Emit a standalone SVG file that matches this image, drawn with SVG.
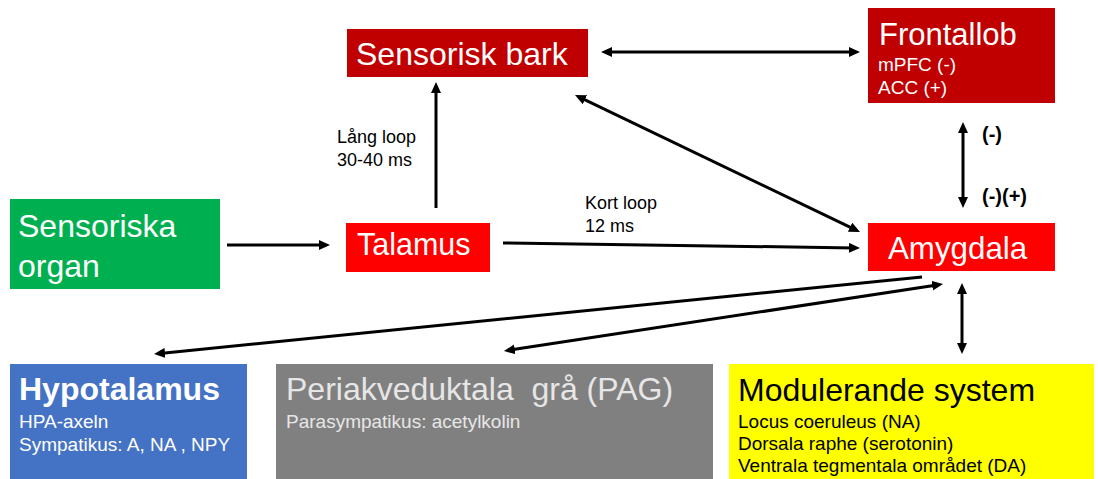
<svg xmlns="http://www.w3.org/2000/svg" width="1098" height="479" viewBox="0 0 1098 479">
<style>
text{font-family:"Liberation Sans",Arial,sans-serif}
.w{fill:#fff}
.big{font-size:32px}
.sm{font-size:19px}
.lbl{font-size:18px;fill:#000}
.bl{font-size:20px;font-weight:bold;fill:#000}
.c{fill:none;stroke:#000;stroke-width:3}
</style>
<defs>
<marker id="ah" viewBox="0 0 11 10" refX="5" refY="5" markerWidth="11" markerHeight="10" markerUnits="userSpaceOnUse" orient="auto-start-reverse">
<path d="M0,0 L11,5 L0,10 z" fill="#000"/>
</marker>
</defs>
<rect width="1098" height="479" fill="#fff"/>
<g id="connectors">
<line class="c" x1="227" y1="245" x2="324" y2="245" marker-end="url(#ah)"/>
<line class="c" x1="436" y1="208" x2="436" y2="88" marker-end="url(#ah)"/>
<line class="c" x1="503" y1="243" x2="854" y2="247.9" marker-end="url(#ah)"/>
<line class="c" x1="607" y1="52" x2="854" y2="52" marker-start="url(#ah)" marker-end="url(#ah)"/>
<line class="c" x1="580.4" y1="97.6" x2="854.6" y2="229.4" marker-start="url(#ah)" marker-end="url(#ah)"/>
<line class="c" x1="963" y1="128" x2="963" y2="202" marker-start="url(#ah)" marker-end="url(#ah)"/>
<line class="c" x1="922" y1="277" x2="160" y2="353.4" marker-end="url(#ah)"/>
<line class="c" x1="937.1" y1="284.9" x2="509.9" y2="350.1" marker-start="url(#ah)" marker-end="url(#ah)"/>
<line class="c" x1="962" y1="289" x2="962" y2="348" marker-start="url(#ah)" marker-end="url(#ah)"/>
<text class="lbl" x="337" y="143">Lång loop</text>
<text class="lbl" x="337" y="166">30-40 ms</text>
<text class="lbl" x="585" y="209">Kort loop</text>
<text class="lbl" x="585" y="232">12 ms</text>
<text class="bl" x="982" y="141">(-)</text>
<text class="bl" x="982" y="203">(-)(+)</text>
</g>
<g id="sensorisk-bark">
<rect x="347" y="29" width="241" height="48" fill="#C00000"/>
<text class="w big" x="356" y="65">Sensorisk bark</text>
</g>
<g id="frontallob">
<rect x="868" y="8" width="187" height="95" fill="#C00000"/>
<text class="w" x="879" y="45" font-size="31">Frontallob</text>
<text class="w sm" x="878" y="71">mPFC (-)</text>
<text class="w sm" x="878" y="94">ACC (+)</text>
</g>
<g id="sensoriska-organ">
<rect x="10" y="199" width="210" height="90" fill="#00B050"/>
<text class="w big" x="18" y="237">Sensoriska</text>
<text class="w big" x="18" y="277">organ</text>
</g>
<g id="talamus">
<rect x="346" y="223" width="144" height="49" fill="#FF0000"/>
<text class="w" x="357" y="255" font-size="30.5">Talamus</text>
</g>
<g id="amygdala">
<rect x="868" y="223" width="187" height="48" fill="#FF0000"/>
<text class="w" x="888" y="259" font-size="31.3">Amygdala</text>
</g>
<g id="hypotalamus">
<rect x="10" y="364" width="237" height="115" fill="#4472C4"/>
<text class="w big" x="19" y="400" font-weight="bold">Hypotalamus</text>
<text class="w sm" x="19" y="428">HPA-axeln</text>
<text class="w sm" x="19" y="451">Sympatikus: A, NA , NPY</text>
</g>
<g id="pag">
<rect x="276" y="364" width="437" height="115" fill="#808080"/>
<text class="big" x="286" y="400" fill="#E7E6E6" xml:space="preserve">Periakveduktala  grå (PAG)</text>
<text class="sm" x="286" y="428" fill="#E7E6E6">Parasympatikus: acetylkolin</text>
</g>
<g id="modulerande">
<rect x="729" y="364" width="365" height="115" fill="#FFFF00"/>
<text class="big" x="738" y="401" fill="#000">Modulerande system</text>
<text class="sm" x="738" y="428" fill="#000">Locus coeruleus (NA)</text>
<text class="sm" x="738" y="450" fill="#000">Dorsala raphe (serotonin)</text>
<text class="sm" x="738" y="472" fill="#000">Ventrala tegmentala området (DA)</text>
</g>
</svg>
